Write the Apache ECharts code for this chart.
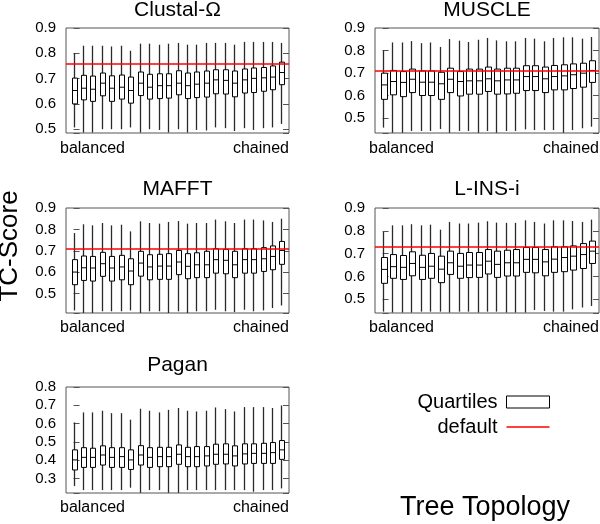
<!DOCTYPE html>
<html>
<head>
<meta charset="utf-8">
<script src="https://cdn.jsdelivr.net/npm/echarts@6/dist/echarts.min.js"></script>
<style>
html,body{margin:0;padding:0;background:#fff;}
#chart{width:600px;height:524px;}
</style>
</head>
<body>
<div id="chart"></div>
<script>
// Tree topologies, from balanced (first) to chained (last)
const topologies = ['T1','T2','T3','T4','T5','T6','T7','T8','T9','T10','T11','T12','T13','T14','T15','T16','T17','T18','T19','T20','T21','T22','T23'];

// Each entry: [lower whisker, Q1, median, Q3, upper whisker]
const clustalData = [
  [0.507,0.600,0.653,0.702,0.801],[0.487,0.616,0.662,0.713,0.830],[0.487,0.610,0.658,0.710,0.830],
  [0.500,0.632,0.682,0.722,0.830],[0.500,0.610,0.662,0.711,0.827],[0.500,0.619,0.666,0.714,0.830],
  [0.507,0.603,0.653,0.706,0.810],[0.487,0.633,0.682,0.726,0.838],[0.500,0.619,0.666,0.717,0.838],
  [0.497,0.621,0.672,0.719,0.834],[0.487,0.623,0.672,0.719,0.838],[0.500,0.636,0.682,0.731,0.841],
  [0.487,0.621,0.672,0.722,0.834],[0.497,0.625,0.678,0.726,0.834],[0.495,0.627,0.682,0.730,0.841],
  [0.507,0.640,0.695,0.735,0.841],[0.504,0.639,0.693,0.735,0.841],[0.493,0.628,0.682,0.730,0.834],
  [0.504,0.643,0.695,0.738,0.845],[0.497,0.645,0.701,0.742,0.845],[0.504,0.650,0.703,0.744,0.845],
  [0.507,0.656,0.706,0.750,0.845],[0.521,0.676,0.724,0.765,0.841]
];
const muscleData = [
  [0.459,0.584,0.648,0.700,0.801],[0.436,0.604,0.663,0.712,0.836],[0.436,0.596,0.659,0.707,0.836],
  [0.444,0.614,0.673,0.718,0.842],[0.444,0.601,0.660,0.710,0.833],[0.444,0.601,0.660,0.710,0.836],
  [0.453,0.584,0.653,0.704,0.816],[0.436,0.614,0.673,0.722,0.851],[0.444,0.599,0.663,0.707,0.844],
  [0.444,0.607,0.666,0.718,0.838],[0.436,0.607,0.666,0.718,0.848],[0.444,0.619,0.675,0.727,0.856],
  [0.436,0.607,0.666,0.718,0.845],[0.444,0.608,0.670,0.722,0.841],[0.444,0.611,0.670,0.722,0.841],
  [0.451,0.623,0.685,0.733,0.856],[0.448,0.623,0.685,0.733,0.853],[0.448,0.614,0.675,0.727,0.841],
  [0.448,0.626,0.685,0.734,0.856],[0.436,0.626,0.688,0.737,0.859],[0.448,0.632,0.693,0.741,0.859],
  [0.456,0.638,0.700,0.744,0.853],[0.463,0.659,0.712,0.755,0.860]
];
const mafftData = [
  [0.422,0.542,0.601,0.659,0.783],[0.410,0.562,0.621,0.676,0.824],[0.410,0.559,0.620,0.674,0.819],
  [0.418,0.581,0.640,0.693,0.830],[0.418,0.559,0.620,0.674,0.819],[0.418,0.565,0.625,0.679,0.822],
  [0.422,0.542,0.606,0.663,0.791],[0.410,0.582,0.643,0.698,0.838],[0.418,0.565,0.625,0.682,0.830],
  [0.418,0.567,0.629,0.684,0.827],[0.410,0.567,0.629,0.687,0.835],[0.418,0.589,0.648,0.702,0.839],
  [0.410,0.570,0.628,0.687,0.827],[0.418,0.575,0.635,0.691,0.830],[0.418,0.575,0.635,0.698,0.830],
  [0.425,0.596,0.659,0.710,0.846],[0.418,0.593,0.656,0.707,0.838],[0.414,0.575,0.635,0.698,0.830],
  [0.425,0.596,0.659,0.710,0.846],[0.418,0.596,0.659,0.710,0.846],[0.422,0.604,0.663,0.715,0.842],
  [0.433,0.612,0.674,0.723,0.835],[0.445,0.637,0.702,0.744,0.850]
];
const linsiData = [
  [0.446,0.570,0.631,0.683,0.795],[0.442,0.592,0.643,0.696,0.824],[0.442,0.587,0.640,0.692,0.824],
  [0.442,0.603,0.657,0.708,0.829],[0.446,0.587,0.640,0.693,0.824],[0.446,0.592,0.645,0.701,0.827],
  [0.446,0.573,0.632,0.689,0.805],[0.442,0.609,0.660,0.711,0.839],[0.446,0.592,0.645,0.701,0.832],
  [0.446,0.595,0.650,0.705,0.832],[0.442,0.596,0.650,0.705,0.836],[0.446,0.611,0.667,0.718,0.842],
  [0.446,0.596,0.653,0.711,0.836],[0.442,0.602,0.660,0.715,0.835],[0.442,0.602,0.660,0.718,0.835],
  [0.442,0.618,0.675,0.727,0.846],[0.453,0.616,0.675,0.727,0.839],[0.449,0.603,0.664,0.718,0.832],
  [0.446,0.618,0.676,0.730,0.846],[0.446,0.621,0.683,0.730,0.846],[0.456,0.628,0.689,0.734,0.843],
  [0.464,0.635,0.696,0.744,0.839],[0.471,0.657,0.711,0.755,0.849]
];
const paganData = [
  [0.258,0.346,0.401,0.456,0.606],[0.236,0.360,0.415,0.468,0.661],[0.236,0.360,0.415,0.465,0.661],
  [0.236,0.373,0.428,0.478,0.670],[0.236,0.360,0.415,0.468,0.657],[0.236,0.360,0.419,0.468,0.657],
  [0.249,0.349,0.401,0.456,0.621],[0.221,0.373,0.428,0.479,0.681],[0.236,0.360,0.415,0.468,0.670],
  [0.236,0.364,0.419,0.470,0.661],[0.221,0.364,0.419,0.470,0.675],[0.221,0.377,0.432,0.483,0.685],
  [0.236,0.364,0.419,0.470,0.670],[0.236,0.364,0.419,0.474,0.666],[0.236,0.368,0.423,0.474,0.670],
  [0.236,0.377,0.432,0.487,0.688],[0.236,0.379,0.432,0.489,0.679],[0.236,0.368,0.423,0.478,0.666],
  [0.236,0.379,0.434,0.489,0.690],[0.227,0.382,0.437,0.489,0.690],[0.236,0.382,0.437,0.492,0.690],
  [0.236,0.382,0.441,0.496,0.685],[0.245,0.404,0.456,0.507,0.699]
];

// Default-parameter TC-Score (red line); null = not shown
const clustalDefault = 0.758;
const muscleDefault = 0.713;
const mafftDefault = 0.715;
const linsiDefault = 0.730;
const paganDefault = null;

const panelTitles = ['Clustal-\u03A9', 'MUSCLE', 'MAFFT', 'L-INS-i', 'Pagan'];
const yMins = [0.485, 0.435, 0.41, 0.44, 0.22];
const yMaxs = [0.9, 0.9, 0.9, 0.9, 0.8];
const xEndLabels = ['balanced', 'chained'];

const panelData = [clustalData, muscleData, mafftData, linsiData, paganData];
const panelDefaults = [clustalDefault, muscleDefault, mafftDefault, linsiDefault, paganDefault];

// layout
const grids = [
  {left: 66, top: 28, width: 223, height: 105},
  {left: 375, top: 28, width: 224, height: 105},
  {left: 66, top: 208, width: 223, height: 105},
  {left: 375, top: 208, width: 224, height: 105},
  {left: 66, top: 387, width: 223, height: 106}
];
const titleY = [10.5, 10.5, 189, 189.5, 365.5];
const endLabelY = [148.5, 148.5, 328, 328, 508];

const FONT = '"Liberation Sans", Arial, Helvetica, sans-serif';

function renderBox(params, api) {
  const x = api.value(0);
  const lo = api.coord([x, api.value(1)]);
  const q1 = api.coord([x, api.value(2)]);
  const md = api.coord([x, api.value(3)]);
  const q3 = api.coord([x, api.value(4)]);
  const hi = api.coord([x, api.value(5)]);
  const w = Math.round(api.size([1, 0])[0] * 0.58);
  const cx = Math.round(lo[0]) + 0.5;
  const bx = Math.round(cx - w / 2) + 0.5;
  return {
    type: 'group',
    children: [
      {type: 'line', shape: {x1: cx, y1: hi[1], x2: cx, y2: lo[1]}, style: {stroke: '#2a2a2a', lineWidth: 1.3}},
      {type: 'rect', shape: {x: bx, y: q3[1], width: w, height: q1[1] - q3[1]}, style: {fill: '#fff', stroke: '#000', lineWidth: 1}},
      {type: 'line', shape: {x1: bx, y1: md[1], x2: bx + w, y2: md[1]}, style: {stroke: '#000', lineWidth: 1}}
    ]
  };
}

const tickFmt = v => (Math.abs(v * 10 - Math.round(v * 10)) < 1e-6 ? v.toFixed(1) : '');

const option = {
  animation: false,
  backgroundColor: '#fff',
  grid: grids.map(g => Object.assign({show: true, borderColor: '#555', borderWidth: 1, backgroundColor: 'transparent'}, g)),
  xAxis: grids.map((g, i) => ({
    type: 'value', gridIndex: i, min: -0.8, max: topologies.length - 1 + 0.8,
    axisLine: {show: false}, axisTick: {show: false}, axisLabel: {show: false}, splitLine: {show: false}
  })),
  yAxis: [].concat(...grids.map((g, i) => [
    {
      type: 'value', gridIndex: i, min: yMins[i], max: yMaxs[i], minInterval: 0.1, maxInterval: 0.1,
      axisLine: {show: false}, splitLine: {show: false},
      axisTick: {show: true, inside: true, length: 6, lineStyle: {color: '#555', width: 1}},
      axisLabel: {show: true, margin: 10, color: '#000', fontSize: 15, fontFamily: FONT, formatter: tickFmt, showMinLabel: true}
    },
    {
      type: 'value', gridIndex: i, position: 'right', min: yMins[i], max: yMaxs[i], minInterval: 0.1, maxInterval: 0.1,
      axisLine: {show: false}, splitLine: {show: false},
      axisTick: {show: true, inside: true, length: 6, lineStyle: {color: '#555', width: 1}},
      axisLabel: {show: false}
    }
  ])),
  legend: {
    orient: 'vertical', align: 'right', right: 50, top: 392, padding: 0, itemGap: 5,
    itemWidth: 43, itemHeight: 12, selectedMode: false,
    textStyle: {fontSize: 20, fontFamily: FONT, color: '#000', padding: [0, 4, 0, 0]},
    data: [
      {name: 'Quartiles', icon: 'rect', itemStyle: {color: '#fff', borderColor: '#000', borderWidth: 1}},
      {name: 'default', icon: 'path://M0,0H43V1.3H0Z', itemStyle: {color: '#ff0000'}}
    ]
  },
  series: [].concat(...panelData.map((d, i) => {
    const s = [{
      name: 'Quartiles', type: 'custom', xAxisIndex: i, yAxisIndex: i * 2, clip: true,
      itemStyle: {color: '#fff', borderColor: '#000'},
      renderItem: renderBox,
      encode: {x: 0, y: [1, 2, 3, 4, 5]},
      data: d.map((v, k) => [k].concat(v))
    }];
    const line = {
      name: 'default', type: 'line', xAxisIndex: i, yAxisIndex: i * 2, data: [], symbol: 'none',
      lineStyle: {color: '#ff0000', width: 1.5}, itemStyle: {color: '#ff0000'}
    };
    if (panelDefaults[i] !== null) {
      line.markLine = {
        silent: true, symbol: 'none', label: {show: false}, animation: false,
        lineStyle: {color: '#ff0000', width: 1.5, type: 'solid'},
        data: [{yAxis: panelDefaults[i]}]
      };
    }
    s.push(line);
    return s;
  })),
  graphic: [].concat(
    ...grids.map((g, i) => [
      {type: 'text', x: g.left + g.width / 2, y: titleY[i], style: {text: panelTitles[i], fontSize: 21, fontFamily: FONT, fill: '#000', align: 'center', verticalAlign: 'middle'}},
      {type: 'text', x: g.left - 6, y: endLabelY[i], style: {text: xEndLabels[0], fontSize: 16, fontFamily: FONT, fill: '#000', align: 'left', verticalAlign: 'middle'}},
      {type: 'text', x: g.left + g.width, y: endLabelY[i], style: {text: xEndLabels[1], fontSize: 16, fontFamily: FONT, fill: '#000', align: 'right', verticalAlign: 'middle'}}
    ]),
    [
      {type: 'text', x: 10, y: 246, rotation: Math.PI / 2, style: {text: 'TC-Score', fontSize: 26, fontFamily: FONT, fill: '#000', align: 'center', verticalAlign: 'middle'}},
      {type: 'text', x: 485, y: 508, style: {text: 'Tree Topology', fontSize: 27, fontFamily: FONT, fill: '#000', align: 'center', verticalAlign: 'middle'}}
    ]
  )
};

const chart = echarts.init(document.getElementById('chart'), null, {renderer: 'canvas'});
chart.setOption(option);
</script>
</body>
</html>
